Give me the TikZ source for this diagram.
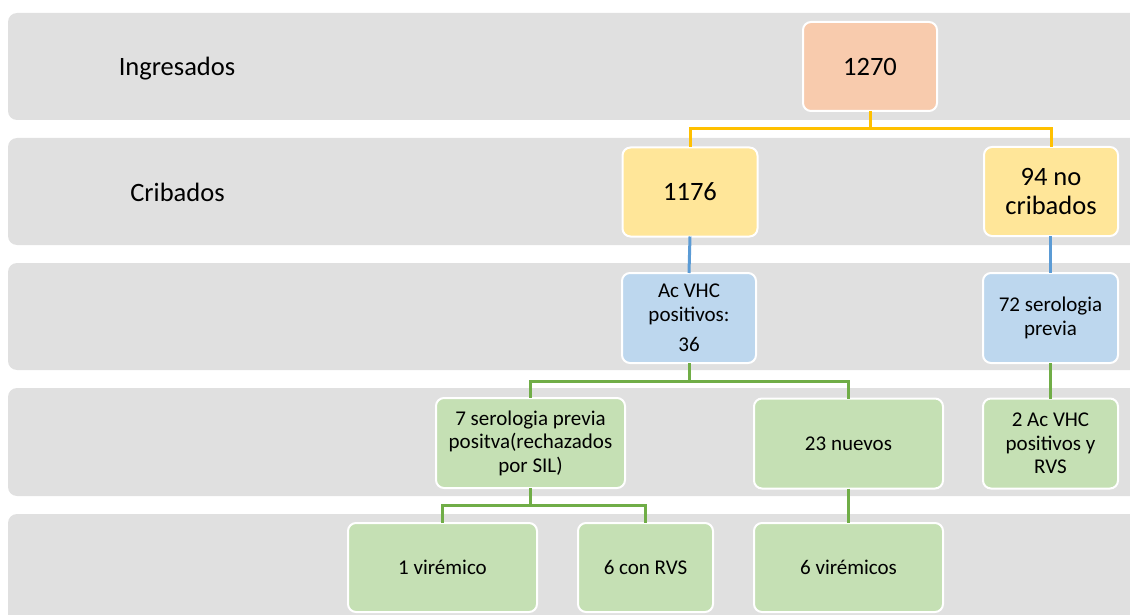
\documentclass[tikz,border=0pt]{standalone}
\usepackage{fontspec}
\setmainfont{Carlito}
\definecolor{bandgray}{HTML}{E0E0E0}
\definecolor{peach}{HTML}{F8CBAD}
\definecolor{yel}{HTML}{FFE699}
\definecolor{lblue}{HTML}{BDD7EE}
\definecolor{lgreen}{HTML}{C5E0B4}
\definecolor{yline}{HTML}{FFC000}
\definecolor{bline}{HTML}{5B9BD5}
\definecolor{gline}{HTML}{70AD47}
\begin{document}
\begin{tikzpicture}[x=1pt,y=-1pt,
  band/.style={fill=bandgray, rounded corners=9pt},
  box/.style={draw=white, line width=2pt, rounded corners=8pt, align=center, inner sep=0pt, text=black},
  big/.style={font=\fontsize{26.5}{29}\selectfont},
  small/.style={font=\fontsize{21}{23.5}\selectfont},
  conn/.style={line width=3pt},
  ycon/.style={conn, draw=yline},
  bcon/.style={conn, draw=bline},
  gcon/.style={conn, draw=gline}]
\useasboundingbox (0,0) rectangle (1130,615);
\clip (0,0) rectangle (1130,615);
% bands
\fill[band] (8,13) rectangle (1160,120);
\fill[band] (8,138) rectangle (1160,245);
\fill[band] (8,263) rectangle (1160,370);
\fill[band] (8,388) rectangle (1160,496);
\fill[band] (8,514) rectangle (1160,640);
% row labels
\node[big] (lab1) at (177,68.5) {Ingresados};
\node[big] (lab2) at (177.5,192) {Cribados};
% boxes
\node[box,big,fill=peach,minimum width=134pt,minimum height=89pt] (n1270) at (870,66.5) {1270};
\node[box,big,fill=yel,minimum width=135pt,minimum height=89pt] (n1176) at (690,192) {1176};
\node[box,big,fill=yel,minimum width=134pt,minimum height=89pt] (n94) at (1051,191.5) {94 no\\cribados};
\node[box,small,fill=lblue,minimum width=134pt,minimum height=90pt] (nAc) at (689,318) {Ac VHC\\positivos:\\[7pt]36};
\node[box,small,fill=lblue,minimum width=135pt,minimum height=90pt] (n72) at (1050.5,318) {72 serologia\\previa};
\node[box,small,fill=lgreen,minimum width=189pt,minimum height=90pt] (n7) at (530.5,443) {7 serologia previa\\positva(rechazados\\por SIL)};
\node[box,small,fill=lgreen,minimum width=189pt,minimum height=90pt] (n23) at (848.5,443.5) {23 nuevos};
\node[box,small,fill=lgreen,minimum width=135pt,minimum height=90pt] (n2) at (1050.5,443.5) {2 Ac VHC\\positivos y\\RVS};
\node[box,small,fill=lgreen,minimum width=189pt,minimum height=89pt] (nv1) at (442.5,567.5) {1 virémico};
\node[box,small,fill=lgreen,minimum width=135pt,minimum height=89pt] (n6rvs) at (645.5,567.5) {6 con RVS};
\node[box,small,fill=lgreen,minimum width=189pt,minimum height=89pt] (n6v) at (848.5,567.5) {6 virémicos};
% junctions
\coordinate (j1) at (870,129);
\coordinate (j2) at (689,381);
\coordinate (j3) at (530.5,505);
% connectors
\draw[ycon] ([yshift=1pt]n1270.south) -- (j1);
\draw[ycon] (j1) -| ([yshift=-1pt]n1176.north);
\draw[ycon] (j1) -| ([yshift=-1pt]n94.north);
\draw[bcon] ([yshift=1pt]n1176.south) -- ([yshift=-1pt]nAc.north);
\draw[bcon] ([yshift=1pt]n94.south -| n72.north) -- ([yshift=-1pt]n72.north);
\draw[gcon] ([yshift=1pt]nAc.south) -- (j2);
\draw[gcon] (j2) -| ([yshift=-1pt]n7.north);
\draw[gcon] (j2) -| ([yshift=-1pt]n23.north);
\draw[gcon] ([yshift=1pt]n72.south) -- ([yshift=-1pt]n2.north);
\draw[gcon] ([yshift=1pt]n7.south) -- (j3);
\draw[gcon] (j3) -| ([yshift=-1pt]nv1.north);
\draw[gcon] (j3) -| ([yshift=-1pt]n6rvs.north);
\draw[gcon] ([yshift=1pt]n23.south) -- ([yshift=-1pt]n6v.north);
\end{tikzpicture}
\end{document}
